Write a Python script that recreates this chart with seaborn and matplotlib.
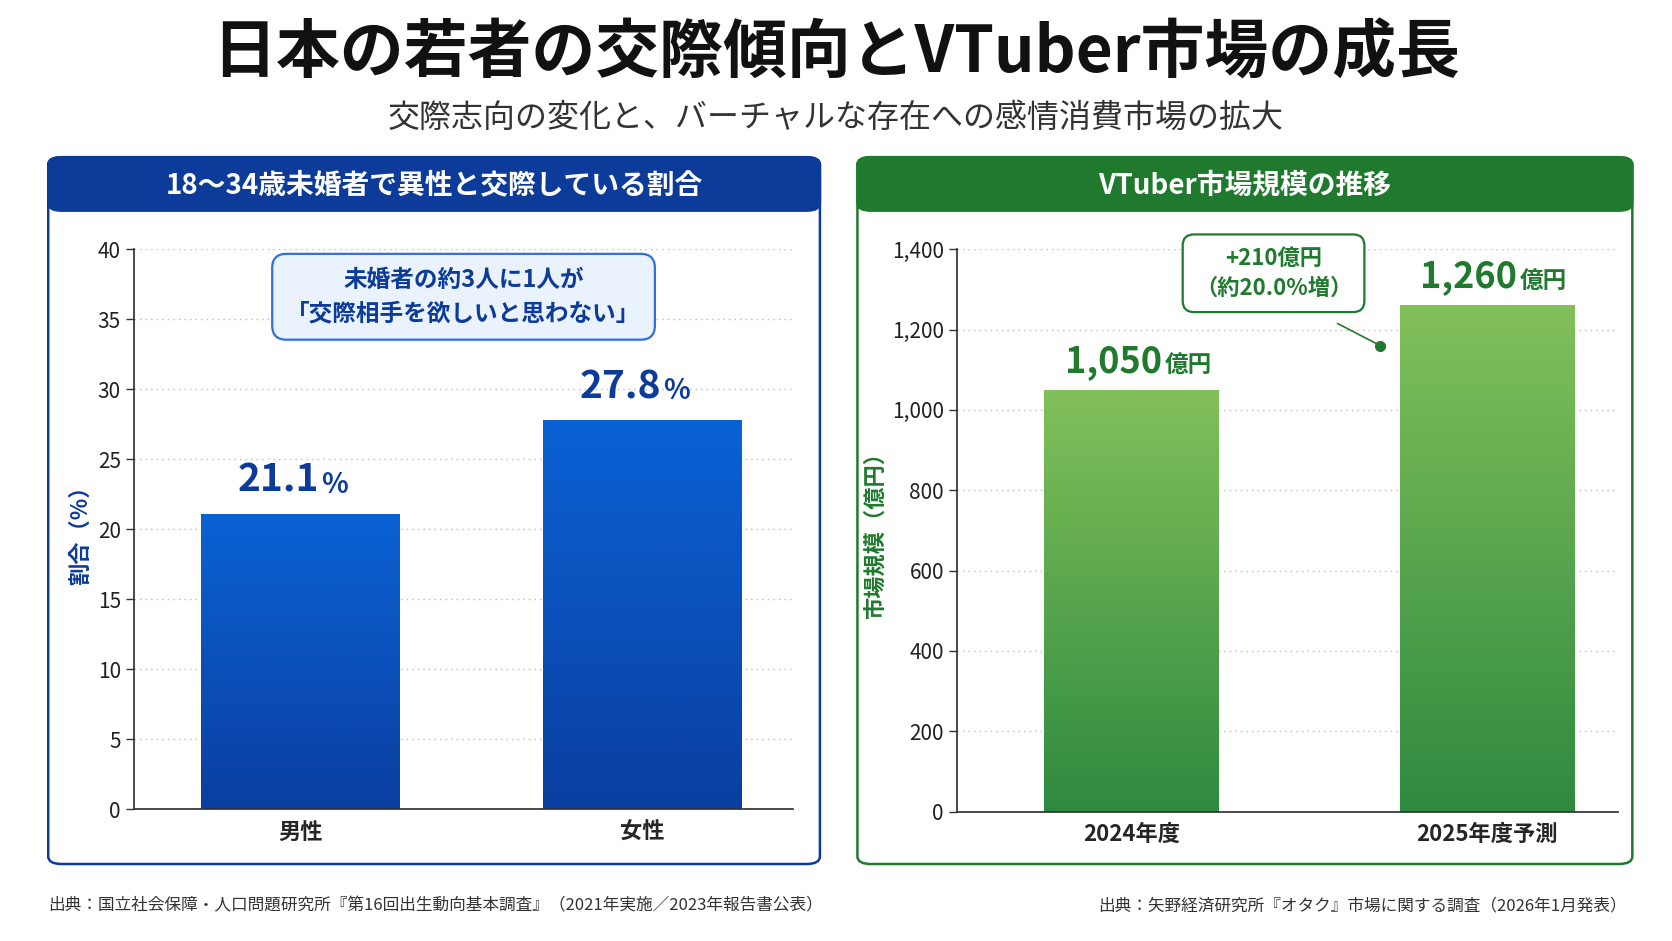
import matplotlib
matplotlib.use("Agg")
import matplotlib.pyplot as plt
import seaborn as sns
import numpy as np
import pandas as pd
from matplotlib.patches import FancyBboxPatch
from matplotlib.colors import LinearSegmentedColormap

sns.set_theme(style="white")
plt.rcParams['font.family'] = ['Noto Sans CJK JP', 'DejaVu Sans']

genders = ["男性", "女性"]
rates = [21.1, 27.8]
years = ["2024年度", "2025年度予測"]
market = [1050, 1260]
left_ticks = [0, 5, 10, 15, 20, 25, 30, 35, 40]
right_ticks = [0, 200, 400, 600, 800, 1000, 1200, 1400]

W, H = 1560, 880
fig = plt.figure(figsize=(16.72, 9.41), dpi=100)
def fx(x): return x / W
def fy(y): return 1 - y / H

fig.text(0.5, fy(50), "日本の若者の交際傾向とVTuber市場の成長", ha="center", va="center",
         fontsize=46, fontweight="bold", color="#111111")
fig.text(0.5, fy(110), "交際志向の変化と、バーチャルな存在への感情消費市場の拡大", ha="center",
         va="center", fontsize=23, color="#333333")

def panel(x0, x1, color, title):
    y0, y1 = 147, 808
    box = FancyBboxPatch((fx(x0), fy(y1)), fx(x1 - x0), (y1 - y0) / H,
                         boxstyle="round,pad=0,rounding_size=0.008", transform=fig.transFigure,
                         fc="white", ec=color, lw=1.8, zorder=0)
    fig.patches.append(box)
    hdr = FancyBboxPatch((fx(x0), fy(197)), fx(x1 - x0), 50 / H,
                         boxstyle="round,pad=0,rounding_size=0.008", transform=fig.transFigure,
                         fc=color, ec=color, lw=1.8, zorder=1)
    fig.patches.append(hdr)
    fig.text(fx((x0 + x1) / 2), fy(173), title, ha="center", va="center", fontsize=20,
             fontweight="bold", color="white", zorder=2)

panel(45, 765, "#0d3b99", "18〜34歳未婚者で異性と交際している割合")
panel(800, 1523, "#1f7a2e", "VTuber市場規模の推移")

def gradient_bars(ax, c_top, c_bot):
    cmap = LinearSegmentedColormap.from_list("g", [c_bot, c_top])
    grad = np.linspace(0, 1, 256).reshape(-1, 1)
    for p in list(ax.patches):
        x, y, w, h = p.get_x(), p.get_y(), p.get_width(), p.get_height()
        im = ax.imshow(grad, extent=[x, x + w, y, y + h], origin="lower", cmap=cmap,
                       aspect="auto", zorder=2)
        im.set_clip_path(p)
        p.set_alpha(0)

def style(ax, ticks, color, ylabel, fmt):
    ax.set_yticks(ticks)
    ax.set_yticklabels([fmt(t) for t in ticks], fontsize=15, color="#222222")
    ax.tick_params(axis="x", labelsize=16, length=0, pad=8)
    for l in ax.get_xticklabels():
        l.set_fontweight("bold")
    ax.tick_params(axis="y", length=6, width=1, color="#333333", left=True)
    ax.grid(axis="y", linestyle=(0, (1, 3)), color="#bbbbbb", lw=1)
    ax.set_axisbelow(True)
    for s in ["top", "right"]:
        ax.spines[s].set_visible(False)
    for s in ["left", "bottom"]:
        ax.spines[s].set_color("#333333")
    ax.set_xlabel("")
    ax.set_ylabel(ylabel, color=color, fontsize=16, fontweight="bold")
    ax.set_facecolor("none")
    ax.set_zorder(5)

# Left chart
ax1 = fig.add_axes([fx(125), fy(757), fx(740 - 125), (757 - 233) / H])
df1 = pd.DataFrame({"g": genders, "v": rates})
sns.barplot(data=df1, x="g", y="v", ax=ax1, width=0.58, color="#0a5ad0", zorder=2)
ax1.set_ylim(0, 40)
ax1.set_xlim(-0.486, 1.442)
gradient_bars(ax1, "#0a62d4", "#0a3fa0")
style(ax1, left_ticks, "#0d3b99", "割合（%）", lambda t: f"{t}")
for i, v in enumerate(rates):
    ax1.annotate(f"{v}", (i, v + 1.0), xytext=(14, 0), textcoords="offset points",
                 ha="right", va="bottom", fontsize=28, fontweight="bold", color="#0d3b99")
    ax1.annotate("%", (i, v + 1.0), xytext=(15, 1), textcoords="offset points",
                 ha="left", va="bottom", fontsize=20, fontweight="bold", color="#0d3b99")
ax1.text(0.5, 0.915, "未婚者の約3人に1人が\n「交際相手を欲しいと思わない」", transform=ax1.transAxes,
         ha="center", va="center", fontsize=17, fontweight="bold", color="#0d3b99",
         linespacing=1.5, zorder=6,
         bbox=dict(boxstyle="round,pad=0.6,rounding_size=0.6", fc="#eaf2fd", ec="#2f6fe0", lw=1.6))

# Right chart
ax2 = fig.add_axes([fx(893), fy(759), fx(1510 - 893), (759 - 233) / H])
df2 = pd.DataFrame({"y": years, "v": market})
sns.barplot(data=df2, x="y", y="v", ax=ax2, width=0.49, color="#5aa84a", zorder=2)
ax2.set_ylim(0, 1400)
ax2.set_xlim(-0.49, 1.37)
gradient_bars(ax2, "#82c05a", "#2e8a40")
style(ax2, right_ticks, "#1f7a2e", "市場規模（億円）", lambda t: f"{t:,}")
for i, v in enumerate(market):
    ax2.annotate(f"{v:,}", (i, v + 25), xytext=(22, 0), textcoords="offset points",
                 ha="right", va="bottom", fontsize=26, fontweight="bold", color="#1f7a2e")
    ax2.annotate("億円", (i, v + 25), xytext=(24, 2), textcoords="offset points",
                 ha="left", va="bottom", fontsize=17, fontweight="bold", color="#1f7a2e")
ax2.plot([0.7], [1160], "o", color="#1f7a2e", ms=7, zorder=6, clip_on=False)
ax2.plot([0.58, 0.7], [1215, 1160], color="#1f7a2e", lw=1.2, zorder=6)
ax2.text(0.4, 1340, "+210億円\n（約20.0%増）", ha="center", va="center", fontsize=16,
         fontweight="bold", color="#1f7a2e", linespacing=1.4, zorder=7,
         bbox=dict(boxstyle="round,pad=0.55,rounding_size=0.5", fc="white", ec="#1f7a2e", lw=1.6))

fig.text(fx(45), fy(847), "出典：国立社会保障・人口問題研究所『第16回出生動向基本調査』（2021年実施／2023年報告書公表）",
         ha="left", va="center", fontsize=12, color="#333333")
fig.text(fx(1518), fy(847), "出典：矢野経済研究所『オタク』市場に関する調査（2026年1月発表）",
         ha="right", va="center", fontsize=12, color="#333333")

fig.savefig("out.png", dpi=100, facecolor="white")
